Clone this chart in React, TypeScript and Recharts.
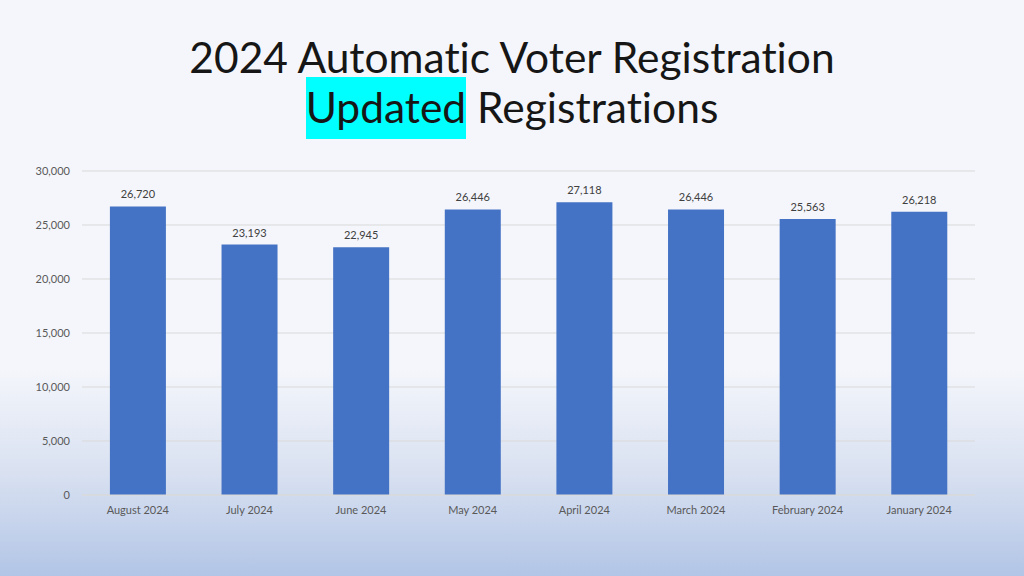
import { BarChart, Bar, XAxis, YAxis, CartesianGrid, LabelList } from 'recharts';

const months = ['August 2024', 'July 2024', 'June 2024', 'May 2024', 'April 2024', 'March 2024', 'February 2024', 'January 2024'];
const registrations = [26720, 23193, 22945, 26446, 27118, 26446, 25563, 26218];
const yTicks = [0, 5000, 10000, 15000, 20000, 25000, 30000];

const data = months.map((name, i) => ({ name, value: registrations[i] }));

const fmt = (v: number) => v.toLocaleString('en-US');

const App = () => {
  return (
    <div
      style={{
        position: 'absolute',
        left: 0,
        top: 0,
        width: 1024,
        height: 576,
        overflow: 'hidden',
        background: 'linear-gradient(to bottom, #f5f6fb 0%, #f4f6fb 64%, #d9e1f1 82%, #b2c5e6 100%)',
        fontFamily: 'Lato, "Open Sans", sans-serif',
      }}
    >
      <div
        style={{
          position: 'absolute',
          top: 32,
          left: 0,
          width: 1024,
          textAlign: 'center',
          fontSize: 42.5,
          lineHeight: '50px',
          color: '#161616',
          fontVariantLigatures: 'none',
        }}
      >
        <div>2024 Automatic Voter Registration</div>
        <div>
          <span style={{ background: '#00ffff', padding: '4px 0 7px' }}>Updated</span> Registrations
        </div>
      </div>
      <div style={{ position: 'absolute', left: 0, top: 0 }}>
        <BarChart
          width={1024}
          height={576}
          data={data}
          margin={{ top: 171, right: 49, left: 22, bottom: 61 }}
          barCategoryGap="25%"
        >
          <CartesianGrid vertical={false} stroke="#d9d9d9" />
          <XAxis
            dataKey="name"
            axisLine={{ stroke: '#d9d9d9' }}
            tickLine={false}
            tickMargin={5}
            height={20}
            tick={{ fill: '#595959', fontSize: 11 }}
            interval={0}
          />
          <YAxis
            width={60}
            domain={[0, 30000]}
            ticks={yTicks}
            tickFormatter={fmt}
            axisLine={false}
            tickLine={false}
            tickSize={0}
            tickMargin={12}
            tick={{ fill: '#595959', fontSize: 11 }}
          />
          <Bar dataKey="value" fill="#4472c4" isAnimationActive={false}>
            <LabelList dataKey="value" position="top" offset={8} formatter={(v: any) => fmt(Number(v))} fill="#404040" fontSize={11} />
          </Bar>
        </BarChart>
      </div>
    </div>
  );
};

export default App;
